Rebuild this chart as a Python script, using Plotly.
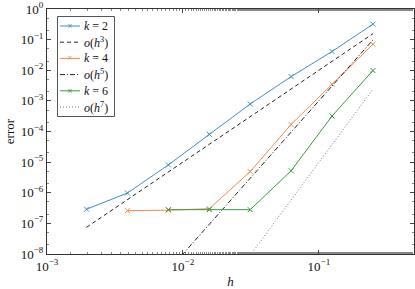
import plotly.graph_objects as go

h = [1/512, 1/256, 1/128, 1/64, 1/32, 1/16, 1/8, 1/4]

err_k2 = [2.9e-7, 9.8e-7, 8.1e-6, 8.1e-5, 7.9e-4, 6.2e-3, 4.1e-2, 0.32]
h_k4 = [1/256, 1/128, 1/64, 1/32, 1/16, 1/8, 1/4]
err_k4 = [2.6e-7, 2.7e-7, 3.0e-7, 4.9e-6, 1.7e-4, 3.5e-3, 7.1e-2]
h_k6 = [1/128, 1/64, 1/32, 1/16, 1/8, 1/4]
err_k6 = [2.8e-7, 2.8e-7, 2.8e-7, 5.2e-6, 3.2e-4, 9.8e-3]

ref_h3 = [7.45e-8, 5.96e-7, 4.77e-6, 3.81e-5, 3.05e-4, 2.44e-3, 1.95e-2, 0.156]
h_ref5 = [1/128, 1/64, 1/32, 1/16, 1/8, 1/4]
ref_h5 = [2.9e-9, 9.3e-8, 2.98e-6, 9.5e-5, 3.05e-3, 0.0977]
h_ref7 = [1/64, 1/32, 1/16, 1/8, 1/4]
ref_h7 = [1.4e-10, 9.2e-9, 5.9e-7, 3.75e-5, 2.4e-3]

x_tickvals = [1e-3, 1e-2, 1e-1]
x_ticktext = ["10<sup>−3</sup>", "10<sup>−2</sup>", "10<sup>−1</sup>"]
y_tickvals = [1e-8, 1e-7, 1e-6, 1e-5, 1e-4, 1e-3, 1e-2, 1e-1, 1]
y_ticktext = ["10<sup>−8</sup>", "10<sup>−7</sup>", "10<sup>−6</sup>", "10<sup>−5</sup>",
              "10<sup>−4</sup>", "10<sup>−3</sup>", "10<sup>−2</sup>", "10<sup>−1</sup>",
              "10<sup>0</sup>"]

BLUE = "#3d8fc4"
ORANGE = "#f0894e"
GREEN = "#3a9a3a"
DARK = "#222222"
DOT = "#777777"
FONT = "Liberation Serif"

W, H = 415, 289
L, R, T, B = 47, 1, 9, 35
PW, PH = W - L - R, H - T - B

series = [
    dict(x=h, y=err_k2, name="<i>k</i> = 2", color=BLUE, dash="solid", marker=True),
    dict(x=h, y=ref_h3, name="<i>o</i>(<i>h</i><sup>3</sup>)", color=DARK, dash="4px,3px", marker=False),
    dict(x=h_k4, y=err_k4, name="<i>k</i> = 4", color=ORANGE, dash="solid", marker=True),
    dict(x=h_ref5, y=ref_h5, name="<i>o</i>(<i>h</i><sup>5</sup>)", color=DARK, dash="5px,2px,1px,2px", marker=False),
    dict(x=h_k6, y=err_k6, name="<i>k</i> = 6", color=GREEN, dash="solid", marker=True),
    dict(x=h_ref7, y=ref_h7, name="<i>o</i>(<i>h</i><sup>7</sup>)", color=DOT, dash="1px,2px", marker=False),
]

fig = go.Figure()
for s in series:
    kw = dict(x=s["x"], y=s["y"], name=s["name"], showlegend=False,
              line=dict(color=s["color"], width=1, dash=s["dash"]))
    if s["marker"]:
        kw["mode"] = "lines+markers"
        kw["marker"] = dict(symbol="x-thin", size=5, color=s["color"],
                            line=dict(width=1, color=s["color"]))
    else:
        kw["mode"] = "lines"
    fig.add_trace(go.Scatter(**kw))

# manual legend (pgfplots-like compact box)
def px(xp):
    return (xp - L) / PW

def py(yp):
    return (H - B - yp) / PH

shapes = [dict(type="rect", xref="paper", yref="paper",
               x0=px(57.5), x1=px(114.5), y0=py(116.5), y1=py(16.5),
               line=dict(color="#555555", width=1), fillcolor="white", layer="above")]
annotations = []
for i, s in enumerate(series):
    yc = 26 + i * 16.2
    shapes.append(dict(type="line", xref="paper", yref="paper",
                       x0=px(60), x1=px(80), y0=py(yc), y1=py(yc),
                       line=dict(color=s["color"], width=1, dash=s["dash"]), layer="above"))
    if s["marker"]:
        annotations.append(dict(xref="paper", yref="paper", x=px(70), y=py(yc),
                                text="×", showarrow=False, xanchor="center", yanchor="middle",
                                font=dict(family="DejaVu Sans", size=7, color=s["color"])))
    annotations.append(dict(xref="paper", yref="paper", x=px(82), y=py(yc),
                            text=s["name"], showarrow=False, xanchor="left", yanchor="middle",
                            font=dict(family=FONT, size=12, color="#111111")))

axis_common = dict(
    type="log", showgrid=False, zeroline=False, showline=True, linecolor="#333333",
    linewidth=1, mirror="ticks", ticks="inside", ticklen=4, tickcolor="#444444",
    minor=dict(ticks="inside", ticklen=2, tickcolor="#888888", showgrid=False),
    tickfont=dict(family=FONT, size=13, color="#111111"), automargin=False,
)
fig.update_xaxes(**axis_common, range=[-3, -0.3], tickvals=x_tickvals, ticktext=x_ticktext,
                 title=dict(text="<i>h</i>", font=dict(family=FONT, size=13), standoff=5))
fig.update_yaxes(**axis_common, range=[-8, 0], tickvals=y_tickvals, ticktext=y_ticktext,
                 title=dict(text="error", font=dict(family=FONT, size=13), standoff=3))

fig.update_layout(
    width=W, height=H,
    margin=dict(l=L, r=R, t=T, b=B),
    plot_bgcolor="white", paper_bgcolor="white",
    font=dict(family=FONT, size=12, color="#111111"),
    shapes=shapes, annotations=annotations,
    showlegend=False,
)
fig.write_html("out.html", config={"displayModeBar": False},
               post_script="document.body.style.margin='0';")
